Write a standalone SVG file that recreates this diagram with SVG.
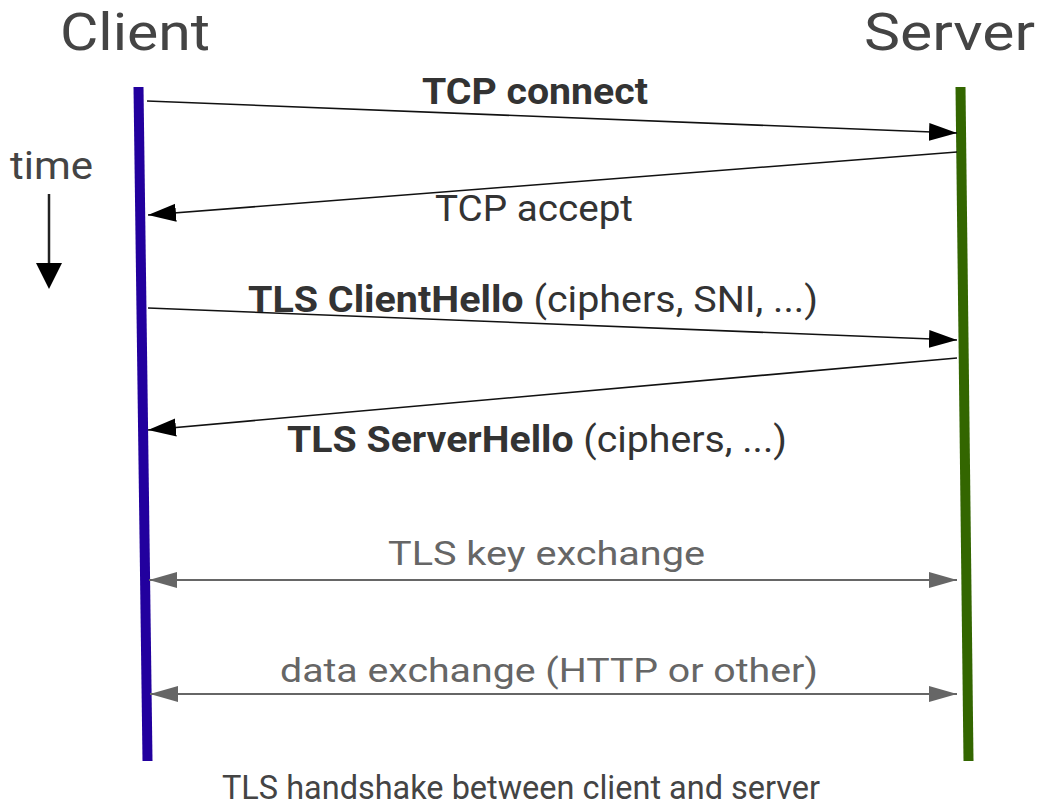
<svg xmlns="http://www.w3.org/2000/svg" width="1044" height="807" viewBox="0 0 1044 807">
<defs>
<style>
text{font-family:Roboto,"Liberation Sans",sans-serif;}
.title{font-size:52px;fill:#444;}
.lbl{font-size:36px;fill:#333;}
.b{font-weight:bold;}
.gray{font-size:34px;fill:#666;}
.cap{font-size:34px;fill:#444;}
.msg{stroke:#111;stroke-width:1.6;fill:none;}
.ex{stroke:#666;stroke-width:1.8;fill:none;}
</style>
<marker id="ah" markerUnits="userSpaceOnUse" markerWidth="30" markerHeight="20" refX="28" refY="10" orient="auto">
<path d="M0,1 L28,10 L0,19 Z" fill="#000"/>
</marker>
<marker id="gh" markerUnits="userSpaceOnUse" markerWidth="30" markerHeight="20" refX="28" refY="10" orient="auto-start-reverse">
<path d="M0,2 L28,10 L0,18 Z" fill="#666"/>
</marker>
</defs>
<rect width="1044" height="807" fill="#fff"/>
<g id="client">
<text class="title" x="60" y="50" textLength="150" lengthAdjust="spacingAndGlyphs">Client</text>
<line x1="138.5" y1="87" x2="147.5" y2="761" stroke="#22009e" stroke-width="10"/>
</g>
<g id="server">
<text class="title" x="864" y="50" textLength="171" lengthAdjust="spacingAndGlyphs">Server</text>
<line x1="960.5" y1="87" x2="968.5" y2="761" stroke="#336600" stroke-width="10"/>
</g>
<g id="time">
<text x="10" y="179" style="font-size:38px;fill:#444;" textLength="83" lengthAdjust="spacingAndGlyphs">time</text>
<line x1="49" y1="194" x2="49" y2="268" stroke="#222" stroke-width="2.5"/>
<path d="M36,263 L62,263 L49,289 Z" fill="#000"/>
</g>
<g id="connectors">
<line class="msg" x1="147" y1="101" x2="957" y2="133" marker-end="url(#ah)"/>
<line class="msg" x1="957" y1="152" x2="148" y2="215" marker-end="url(#ah)"/>
<line class="msg" x1="148" y1="308" x2="957" y2="340" marker-end="url(#ah)"/>
<line class="msg" x1="957" y1="358" x2="148" y2="430" marker-end="url(#ah)"/>
<line class="ex" x1="149" y1="580" x2="957" y2="580" marker-start="url(#gh)" marker-end="url(#gh)"/>
<line class="ex" x1="150" y1="694" x2="957" y2="694" marker-start="url(#gh)" marker-end="url(#gh)"/>
</g>
<g id="labels">
<text class="lbl b" x="422" y="104" textLength="226" lengthAdjust="spacingAndGlyphs">TCP connect</text>
<text class="lbl" x="435" y="221" textLength="198" lengthAdjust="spacingAndGlyphs">TCP accept</text>
<text class="lbl" x="248" y="312" textLength="570" lengthAdjust="spacingAndGlyphs"><tspan class="b">TLS ClientHello</tspan> (ciphers, SNI, ...)</text>
<text class="lbl" x="287" y="452" textLength="500" lengthAdjust="spacingAndGlyphs"><tspan class="b">TLS ServerHello</tspan> (ciphers, ...)</text>
<text class="gray" x="388" y="565" textLength="317" lengthAdjust="spacingAndGlyphs">TLS key exchange</text>
<text class="gray" x="280" y="682" textLength="538" lengthAdjust="spacingAndGlyphs">data exchange (HTTP or other)</text>
<text class="cap" x="222" y="799" textLength="598" lengthAdjust="spacingAndGlyphs">TLS handshake between client and server</text>
</g>
</svg>
